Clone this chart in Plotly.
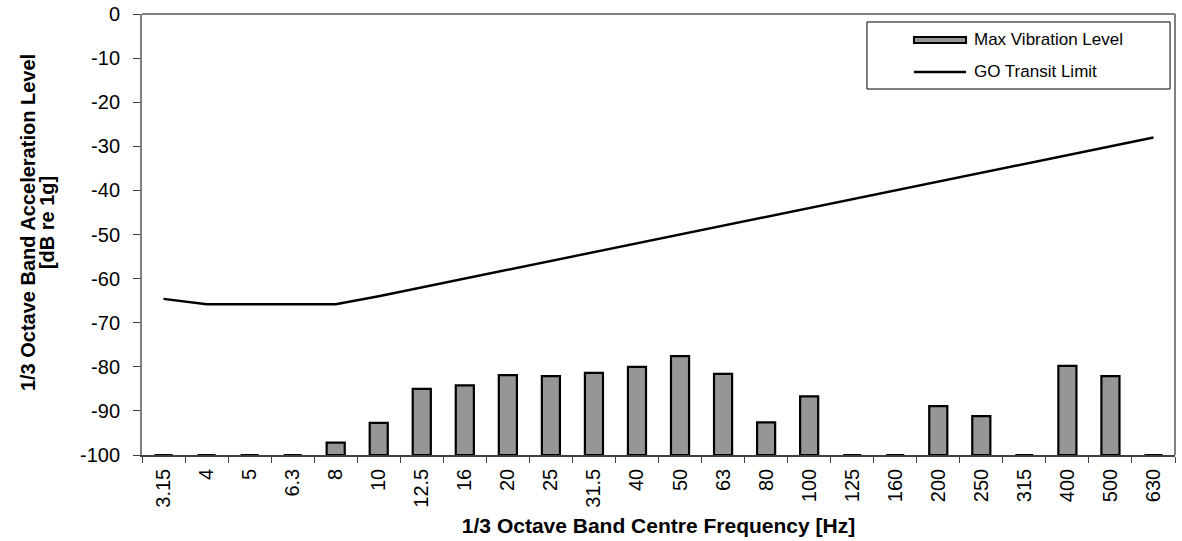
import plotly.graph_objects as go

# 1/3 octave band centre frequencies
bands = ["3.15", "4", "5", "6.3", "8", "10", "12.5", "16", "20", "25", "31.5",
         "40", "50", "63", "80", "100", "125", "160", "200", "250", "315",
         "400", "500", "630"]

# Measured maximum vibration level per band (dB re 1g)
max_vibration = [-100, -100, -100, -100, -97.2, -92.7, -85.0, -84.2, -81.9,
                 -82.1, -81.4, -80.0, -77.6, -81.6, -92.6, -86.7, -100, -100,
                 -88.9, -91.2, -100, -79.8, -82.1, -100]

# GO Transit vibration limit curve (dB re 1g)
go_transit_limit = [-64.6, -65.8, -65.8, -65.8, -65.8, -64, -62, -60, -58, -56,
                    -54, -52, -50, -48, -46, -44, -42, -40, -38, -36, -34, -32,
                    -30, -28]

# y-axis ticks, labelled with a plain hyphen
y_ticks = list(range(-100, 1, 10))
y_tick_text = [str(v) for v in y_ticks]

FONT = "Liberation Sans, Arial, sans-serif"
BAR_FILL = "#969696"

fig = go.Figure()
fig.add_trace(go.Bar(
    x=bands, y=[v + 100 for v in max_vibration], base=-100,
    name="Max Vibration Level", width=0.42,
    marker=dict(color=BAR_FILL, line=dict(color="black", width=2.2)),
))
fig.add_trace(go.Scatter(
    x=bands, y=go_transit_limit, mode="lines", name="GO Transit Limit",
    line=dict(color="black", width=2.4),
))

# legend box drawn in paper coordinates
legend_shapes = [
    dict(type="rect", xref="paper", yref="paper", x0=0.7018, x1=0.9952,
         y0=0.8299, y1=0.9819, line=dict(color="black", width=1),
         fillcolor="white", layer="above"),
    dict(type="rect", xref="paper", yref="paper", x0=0.7473, x1=0.7977,
         y0=0.9342, y1=0.9478, line=dict(color="black", width=2),
         fillcolor=BAR_FILL, layer="above"),
    dict(type="line", xref="paper", yref="paper", x0=0.7473, x1=0.7977,
         y0=0.8685, y1=0.8685, line=dict(color="black", width=2.4),
         layer="above"),
]
text_annotations = [
    dict(text="Max Vibration Level", xref="paper", yref="paper", x=0.8035,
         y=0.9420, xanchor="left", yanchor="middle", showarrow=False,
         font=dict(size=17)),
    dict(text="GO Transit Limit", xref="paper", yref="paper", x=0.8035,
         y=0.8685, xanchor="left", yanchor="middle", showarrow=False,
         font=dict(size=17)),
    # y-axis title, two tightly spaced lines
    dict(text="<b>1/3 Octave Band Acceleration Level</b>",
         xref="paper", yref="paper", x=-0.1104, y=0.528, textangle=-90,
         xanchor="center", yanchor="middle", showarrow=False,
         font=dict(size=20)),
    dict(text="<b>[dB re 1g]</b>",
         xref="paper", yref="paper", x=-0.0920, y=0.528, textangle=-90,
         xanchor="center", yanchor="middle", showarrow=False,
         font=dict(size=20)),
]

fig.update_layout(
    width=1182, height=541,
    margin=dict(l=142, r=7, t=14, b=86),
    paper_bgcolor="white", plot_bgcolor="white",
    font=dict(family=FONT, size=20, color="black"),
    showlegend=False,
    xaxis=dict(
        type="category", tickangle=-90, tickson="boundaries",
        ticks="outside", ticklen=6, tickcolor="#404040",
        ticklabelstandoff=4,
        showline=True, linecolor="#404040", linewidth=1.5,
        mirror=False, showgrid=False,
        title=dict(text="<b>1/3 Octave Band Centre Frequency [Hz]</b>",
                   font=dict(size=21), standoff=12),
        tickfont=dict(size=20),
        range=[-0.5, 23.5],
        automargin=False,
    ),
    yaxis=dict(
        range=[-100, 0], tickvals=y_ticks, ticktext=y_tick_text,
        ticks="outside", ticklen=7, tickcolor="#404040",
        ticklabelstandoff=9,
        showline=True, linecolor="#808080", linewidth=2,
        showgrid=False, zeroline=False,
        tickfont=dict(size=20),
        automargin=False,
    ),
    shapes=[
        # top and right frame of the plot area
        dict(type="line", xref="paper", yref="paper", x0=0, x1=1, y0=1, y1=1,
             line=dict(color="#808080", width=2)),
        dict(type="line", xref="paper", yref="paper", x0=1, x1=1, y0=0, y1=1,
             line=dict(color="#808080", width=2)),
    ] + legend_shapes,
    annotations=text_annotations,
)

fig.write_html("out.html")
